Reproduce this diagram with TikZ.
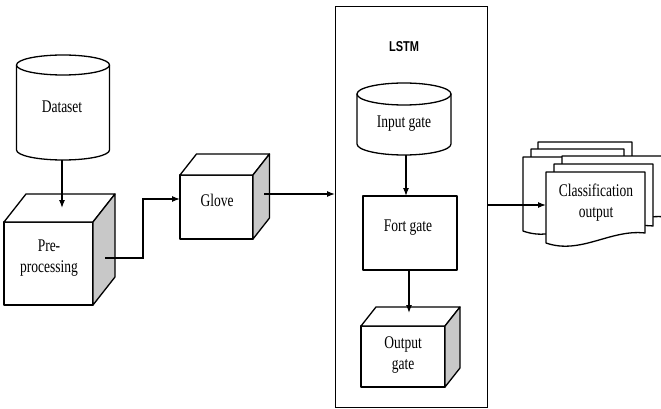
\documentclass[tikz,border=0pt]{standalone}
\usepackage{fontspec}
\setmainfont{Liberation Serif}
\newfontfamily\lstmfont{Liberation Sans}
\usepackage{graphicx}
\usetikzlibrary{arrows.meta,calc}
\definecolor{sidegray}{RGB}{200,200,200}
\newcommand\T[1]{\scalebox{1}[1.32]{\begin{tabular}{@{}c@{}}#1\end{tabular}}}
\tikzset{
  ln/.style={line width=1.3pt, line join=round},
  box/.style={draw, fill=white, ln, outer sep=0pt, inner sep=0pt},
  lbl/.style={inner sep=0pt, font=\fontsize{13.5}{15.5}\selectfont},
  arr/.style={line width=1.2pt, -{Latex[length=8pt,width=6pt]}}
}
\newcommand\drawcube[3]{%
  \draw[ln, fill=white] (#1.north west) -- ++(#2,-#3) -- ([xshift=#2pt, yshift=#3pt]#1.north east) -- (#1.north east) -- cycle;
  \draw[ln, fill=sidegray] (#1.north east) -- ++(#2,-#3) -- ([xshift=#2pt, yshift=#3pt]#1.south east) -- (#1.south east) -- cycle;}
\newcommand\drawcyl[5]{%
  \draw[ln, fill=white] ({#1-#4},#2) -- ({#1-#4},#3) .. controls ({#1-#4},{#3+0.552*#5}) and ({#1-0.552*#4},{#3+#5}) .. (#1,{#3+#5}) .. controls ({#1+0.552*#4},{#3+#5}) and ({#1+#4},{#3+0.552*#5}) .. ({#1+#4},#3) -- ({#1+#4},#2) -- cycle;
  \draw[ln, fill=white] (#1,#2) ellipse [x radius=#4pt, y radius=#5pt];}
\newcommand\docpage[4]{%
  \draw[ln, fill=white] (#1,#4) -- (#1,#2) -- ({#1+#3},#2) -- ({#1+#3},{#4-10}) .. controls ({#1+0.65*#3},{#4-14}) and ({#1+0.35*#3},{#4+12}) .. (#1,#4) -- cycle;}
\begin{document}
\begin{tikzpicture}[x=1pt,y=-1pt]
\clip (0,0) rectangle (661,409);
\fill[white] (0,0) rectangle (661,409);
% Dataset
\drawcyl{63}{65}{150}{46.5}{10}
\node[lbl] (ds) at (62,108) {\T{Dataset}};
\coordinate (dsB) at (62,160);
% Pre-processing
\node[box, minimum width=89pt, minimum height=83pt] (pre) at (48.5,263.5) {};
\drawcube{pre}{22}{28}
\node[lbl] (prelbl) at (49,258) {\T{Pre-\\processing}};
\coordinate (preIn) at (62,208);
\draw[arr] (dsB) -- (preIn);
% Glove
\node[box, minimum width=73pt, minimum height=64pt] (glove) at (216.5,207) {};
\drawcube{glove}{16.5}{21}
\node[lbl] (glovelbl) at (217,202) {\T{Glove}};
\coordinate (preOut) at (105,258);
\coordinate (gloveIn) at (180,199);
\draw[arr] (preOut) -- (143,258) |- (gloveIn);
% LSTM
\node[draw, line width=1pt, minimum width=152pt, minimum height=400pt, outer sep=0pt, inner sep=0pt] (lstm) at (411,207) {};
\node[inner sep=0pt, font=\lstmfont\bfseries\fontsize{11}{13}\selectfont] (lstmlbl) at (404,47) {\scalebox{1}[1.3]{LSTM}};
\coordinate (gloveOut) at (264,194);
\draw[arr] (gloveOut) -- (gloveOut -| lstm.west);
% Input gate
\drawcyl{404}{94}{144}{47}{11}
\node[lbl] (ig) at (404,123) {\T{Input gate}};
\coordinate (igB) at (406,155);
% Fort gate
\node[box, minimum width=94pt, minimum height=74pt] (fort) at (410,233) {};
\node[lbl] (fortlbl) at (408,227) {\T{Fort gate}};
\draw[arr] (igB) -- (igB |- fort.north);
% Output gate
\node[box, minimum width=84pt, minimum height=61pt] (out) at (403,356.5) {};
\drawcube{out}{15}{19}
\node[lbl] (outlbl) at (403,355) {\T{Output\\gate}};
\coordinate (outIn) at (409,313);
\draw[arr] (fort.south -| outIn) -- (outIn);
% Classification output (multi-document)
\docpage{538}{142}{94}{216}
\docpage{531}{149}{93}{223}
\docpage{523}{157}{94}{231}
\docpage{562}{156}{104}{227}
\docpage{554}{164}{99}{236}
\docpage{546}{172}{99}{243}
\node[lbl] (cls) at (596,203) {\T{Classification\\output}};
\coordinate (clsIn) at (546,205);
\draw[arr] (clsIn -| lstm.east) -- (clsIn);
\end{tikzpicture}
\end{document}
